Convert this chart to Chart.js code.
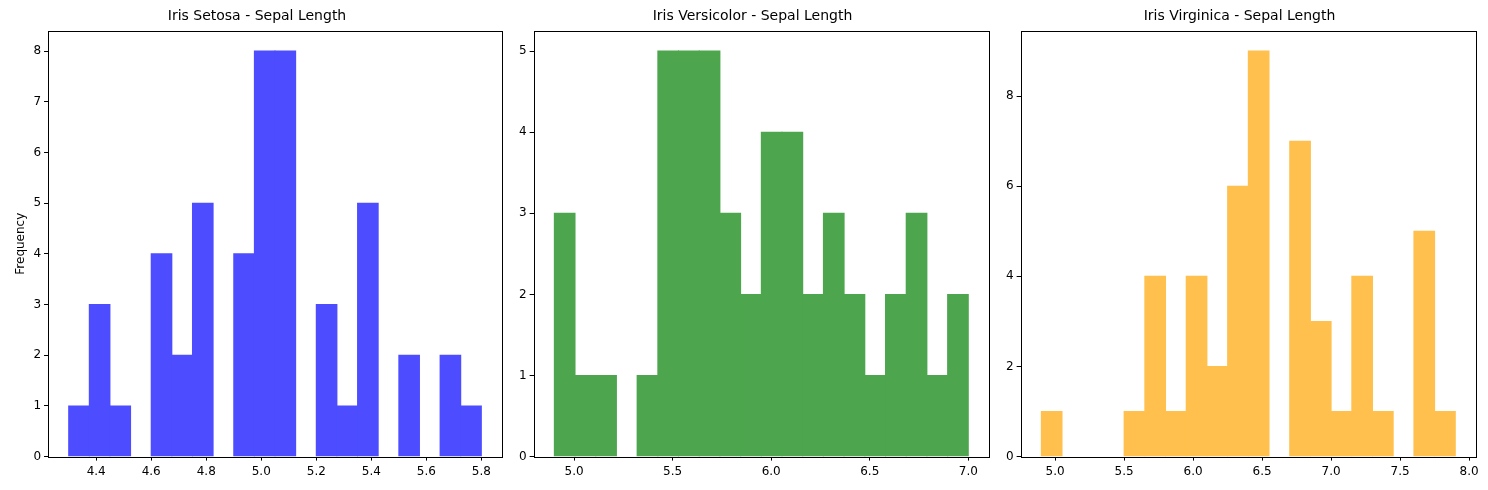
<!DOCTYPE html>
<html><head>
<script src="https://cdn.jsdelivr.net/npm/chart.js@4"></script>
<style>body{margin:0;background:#fff;width:1488px;height:490px;position:relative;overflow:hidden}
.p{position:absolute;top:0;height:490px}</style></head><body>
<div class="p" style="left:0;width:510px"><canvas id="c0"></canvas></div>
<div class="p" style="left:510px;width:487px"><canvas id="c1"></canvas></div>
<div class="p" style="left:997px;width:491px"><canvas id="c2"></canvas></div>
<script>
const setosaCounts=[1,3,1,0,4,2,5,0,4,8,8,0,3,1,5,0,2,0,2,1];
const versicolorCounts=[3,1,1,0,1,5,5,5,3,2,4,4,2,3,2,1,2,3,1,2];
const virginicaCounts=[1,0,0,0,1,4,1,4,2,6,9,0,7,3,1,4,1,0,5,1];
const titles=["Iris Setosa - Sepal Length","Iris Versicolor - Sepal Length","Iris Virginica - Sepal Length"];
const ranges=[[4.3,5.8],[4.9,7.0],[4.9,7.9]];
const xTicks=[[4.4,4.6,4.8,5.0,5.2,5.4,5.6,5.8],[5.0,5.5,6.0,6.5,7.0],[5.0,5.5,6.0,6.5,7.0,7.5,8.0]];
const yTicks=[[0,1,2,3,4,5,6,7,8],[0,1,2,3,4,5],[0,2,4,6,8]];
const yMax=[8.4,5.25,9.45];
// alpha 0.7 blue / green / orange flattened on white
const colors=['rgb(77,77,255)','rgb(77,166,77)','rgb(255,192,77)'];
const counts=[setosaCounts,versicolorCounts,virginicaCounts];
const pads=[{left:12,right:8},{left:6,right:8},{left:6,right:12}];
const box={id:'box',afterDraw(c){const a=c.chartArea,x=c.ctx;x.save();x.strokeStyle='#000';x.lineWidth=1;x.strokeRect(Math.round(a.left)+0.5,Math.round(a.top)+0.5,Math.round(a.right-a.left),Math.round(a.bottom-a.top));x.restore();}};
Chart.defaults.font.family='"DejaVu Sans"';Chart.defaults.color='#000';
for(let i=0;i<3;i++){
  const [lo,hi]=ranges[i];const w=(hi-lo)/20,m=(hi-lo)*0.05;
  const data=counts[i].map((v,k)=>({x:lo+w*(k+0.5),y:v===0?null:v}));
  const xt=xTicks[i],yt=yTicks[i];
  new Chart(document.getElementById('c'+i),{type:'bar',
    data:{datasets:[{data,backgroundColor:colors[i],barPercentage:1,categoryPercentage:1,borderWidth:0,inflateAmount:0.5}]},
    plugins:[box],
    options:{responsive:true,maintainAspectRatio:false,animation:false,
      layout:{padding:{top:4,bottom:7,left:pads[i].left,right:pads[i].right}},
      plugins:{legend:{display:false},tooltip:{enabled:false},
        title:{display:true,text:titles[i],font:{size:14,weight:'normal'},padding:{top:4,bottom:6}}},
      scales:{
        x:{type:'linear',offset:false,min:lo-m,max:hi+m,grid:{display:true,offset:false,drawOnChartArea:false,tickLength:4,tickColor:'#000'},border:{display:false},
          afterBuildTicks:s=>{s.ticks=xt.map(v=>({value:v}));},
          ticks:{font:{size:12},callback:v=>v.toFixed(1),maxRotation:0,autoSkip:false,padding:4}},
        y:{min:0,max:yMax[i],grid:{display:true,offset:false,drawOnChartArea:false,tickLength:4,tickColor:'#000'},border:{display:false},
          afterBuildTicks:s=>{s.ticks=yt.map(v=>({value:v}));},
          ticks:{font:{size:12},autoSkip:false,padding:3},
          title:{display:i===0,text:'Frequency',font:{size:12},padding:2}}
      }}});
}
</script></body></html>
